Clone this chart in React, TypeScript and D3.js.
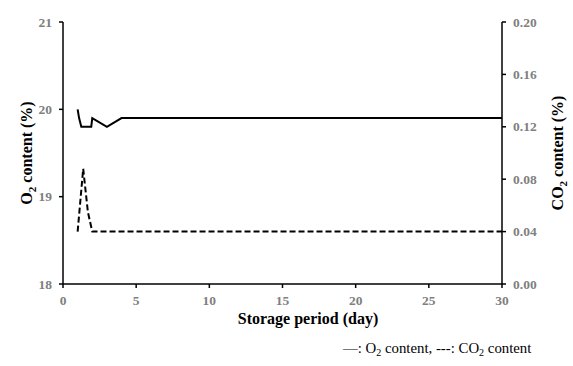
import * as d3 from "d3";

const W = 573;
const H = 366;

// storage day vs O2 (%) - solid line
const o2Days = [1, 1.1, 1.25, 1.93, 2, 3, 4, 30];
const o2Values = [20.0, 19.9, 19.8, 19.8, 19.9, 19.8, 19.9, 19.9];

// storage day vs CO2 (%) - dashed line
const co2Days = [1, 1.38, 1.7, 2, 30];
const co2Values = [0.04, 0.088, 0.055, 0.04, 0.04];

const xTicks = [0, 5, 10, 15, 20, 25, 30];
const leftTicks = [18, 19, 20, 21];
const rightTicks = [0, 0.04, 0.08, 0.12, 0.16, 0.2];

const serif = "'Liberation Serif', 'Times New Roman', serif";
const tickGray = "#7f7f7f";

export default function App() {
    const m = {left: 63, right: W - 502, top: 22, bottom: H - 284};

    const x = d3.scaleLinear([0, 30], [m.left, W - m.right]);
    const yL = d3.scaleLinear([18, 21], [H - m.bottom, m.top]);
    const yR = d3.scaleLinear([0, 0.2], [H - m.bottom, m.top]);

    const o2Line = d3.line<number>()
        .x((_, i) => x(o2Days[i]))
        .y(d => yL(d));
    const co2Line = d3.line<number>()
        .x((_, i) => x(co2Days[i]))
        .y(d => yR(d));

    const y0 = H - m.bottom;
    const xl = m.left;
    const xr = W - m.right;

    return <svg width={W} height={H} style={{position: "absolute", left: 0, top: 0}}>
        <rect width={W} height={H} fill="white"/>
        {/* data */}
        <path d={o2Line(o2Values) ?? ""} fill="none" stroke="black" strokeWidth={2}/>
        <path d={co2Line(co2Values) ?? ""} fill="none" stroke="black" strokeWidth={2} strokeDasharray="6,3"/>

        {/* axes */}
        <g stroke="black" strokeWidth={1.5}>
            <line x1={xl} x2={xl} y1={m.top} y2={y0}/>
            <line x1={xr} x2={xr} y1={m.top} y2={y0}/>
            <line x1={xl} x2={xr} y1={y0} y2={y0}/>
            {xTicks.map(t => <line key={"xt" + t} x1={x(t)} x2={x(t)} y1={y0} y2={y0 + 4}/>)}
            {leftTicks.map(t => <line key={"lt" + t} x1={xl - 4} x2={xl} y1={yL(t)} y2={yL(t)}/>)}
            {rightTicks.map(t => <line key={"rt" + t} x1={xr} x2={xr + 4} y1={yR(t)} y2={yR(t)}/>)}
        </g>

        <g fontFamily={serif} fontWeight="bold" fontSize={13.5} fill={tickGray}>
            {xTicks.map(t => <text key={"xl" + t} x={x(t)} y={y0 + 21} textAnchor="middle">{t}</text>)}
            {leftTicks.map(t => <text key={"ll" + t} x={xl - 11} y={yL(t) + 4.5} textAnchor="end">{t}</text>)}
            {rightTicks.map(t => <text key={"rl" + t} x={xr + 11} y={yR(t) + 4.5} textAnchor="start">{d3.format(".2f")(t)}</text>)}
        </g>

        <g fontFamily={serif} fontWeight="bold" fontSize={16} fill="black">
            <text x={308} y={324} textAnchor="middle">Storage period (day)</text>
            <text transform={`translate(32,${(m.top + y0) / 2}) rotate(-90)`} textAnchor="middle">
                O<tspan fontSize={11} dy={4}>2</tspan><tspan dy={-4}> content (%)</tspan>
            </text>
            <text transform={`translate(563,${(m.top + y0) / 2}) rotate(-90)`} textAnchor="middle">
                CO<tspan fontSize={11} dy={4}>2</tspan><tspan dy={-4}> content (%)</tspan>
            </text>
        </g>

        <text x={343} y={353} fontFamily={serif} fontSize={14.8} fill="black">
            —: O<tspan fontSize={10} dy={3}>2</tspan><tspan dy={-3}> content, ---: CO</tspan><tspan fontSize={10} dy={3}>2</tspan><tspan dy={-3}> content</tspan>
        </text>
    </svg>;
}
